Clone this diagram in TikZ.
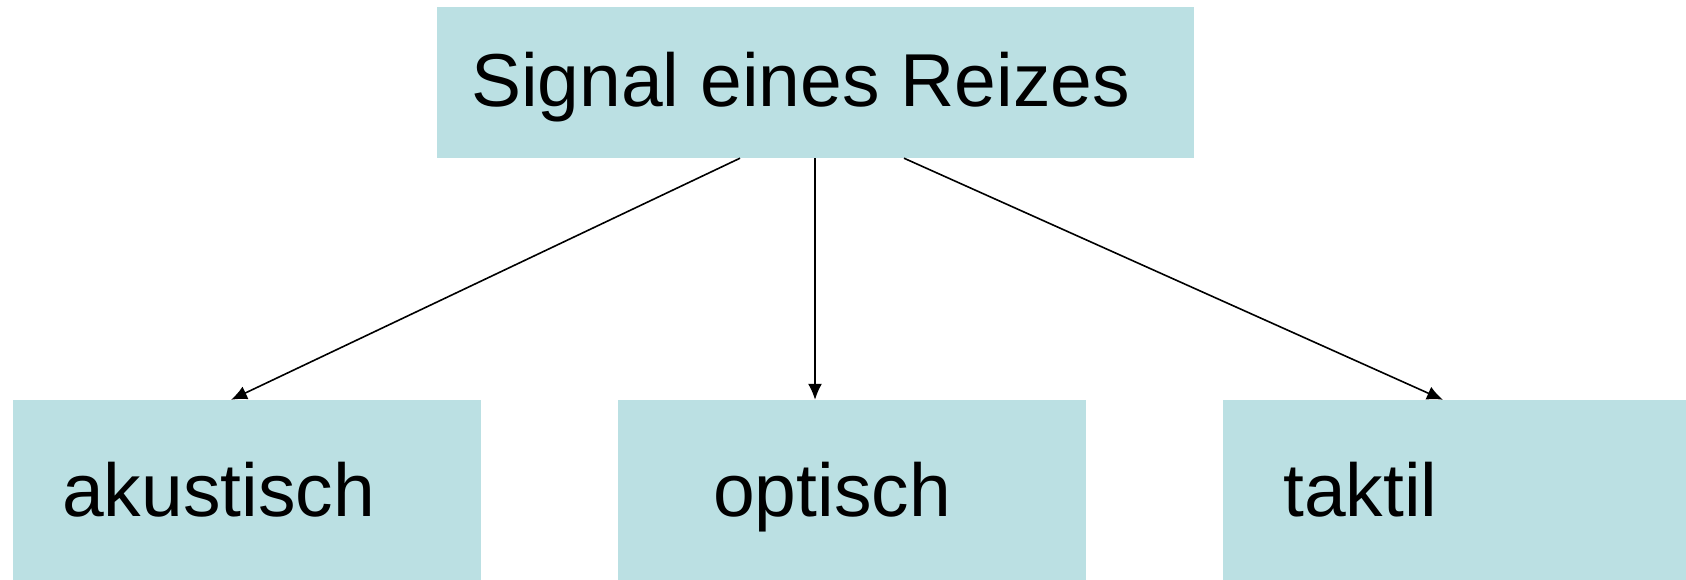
\documentclass[tikz,border=0pt]{standalone}
\usepackage{fontspec}
\setmainfont{Liberation Sans}
\usetikzlibrary{arrows.meta}
\definecolor{boxfill}{RGB}{187,224,227}
\tikzset{
  panel/.style={rectangle, fill=boxfill, draw=none, inner sep=0pt},
  caption/.style={anchor=base west, inner sep=0pt, font=\fontsize{75}{80}\selectfont},
  link/.style={line width=1.6pt, -{Latex[length=16pt,width=14pt]}}
}
\begin{document}
\begin{tikzpicture}[x=1pt,y=-1pt]
  \useasboundingbox (0,0) rectangle (1686,579);
  % boxes
  \node[panel, minimum width=757pt, minimum height=151pt] (sig) at (815,82.5) {};
  \node[panel, minimum width=468pt, minimum height=185pt] (aku) at (247,492.5) {};
  \node[panel, minimum width=468pt, minimum height=185pt] (opt) at (852,492.5) {};
  \node[panel, minimum width=464pt, minimum height=185pt] (tak) at (1455,492.5) {};
  % labels
  \node[caption] (tsig) at (471,106) {Signal eines Reizes};
  \node[caption] (taku) at (62,516) {akustisch};
  \node[caption] (topt) at (713,516) {optisch};
  \node[caption] (ttak) at (1283,516) {taktil};
  % connector ends
  \coordinate (s1) at (sig.south -| 740,0);
  \coordinate (s2) at (sig.south);
  \coordinate (s3) at (sig.south -| 904,0);
  \coordinate (e1) at (aku.north -| 231,0);
  \coordinate (e2) at (opt.north -| 815,0);
  \coordinate (e3) at (tak.north -| 1443,0);
  % connectors
  \draw[link] (s1) -- (e1);
  \draw[link] (s2) -- (e2);
  \draw[link] (s3) -- (e3);
\end{tikzpicture}
\end{document}
